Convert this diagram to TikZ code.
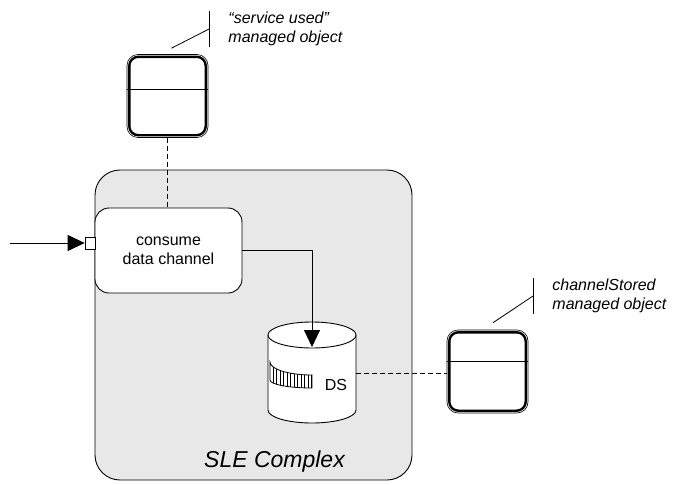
\documentclass[tikz,border=0pt]{standalone}
\usepackage{fontspec}
\setmainfont{Liberation Sans}
\usetikzlibrary{arrows.meta,positioning}
\definecolor{cplxgray}{HTML}{E8E8E8}
\begin{document}
\begin{tikzpicture}[x=1pt,y=-1pt,line width=0.9pt,
  complex/.style={draw,fill=cplxgray,rounded corners=25pt},
  process/.style={draw,fill=white,rounded corners=14pt,minimum width=147pt,minimum height=85pt,align=center,font=\fontsize{16}{19}\selectfont},
  port/.style={draw,fill=white,line width=0.7pt,minimum width=10pt,minimum height=12pt,inner sep=0pt},
  mobj/.style={draw,fill=white,line width=0.6pt,rounded corners=11pt,minimum width=81pt,minimum height=83pt,inner sep=0pt},
  note/.style={align=left,inner sep=0pt,anchor=west,font=\fontsize{16}{19}\selectfont\itshape},
  flow/.style={-{Triangle[length=17pt,width=16pt]}},
  assoc/.style={dash pattern=on 5pt off 3pt,line width=0.8pt}]
\useasboundingbox (0,0) rectangle (673,485);
% SLE complex
\node[complex,minimum width=317pt,minimum height=310pt] (cplx) at (253.5,325) {};
\node[font=\fontsize{23}{26}\selectfont\itshape] (cplxlabel) at (274.5,462) {SLE Complex};
% process
\node[process] (consume) at (168.5,250.5) {consume\\data channel};
\node[port] (port) at (90,243) {};
\coordinate (src) at (10,243);
\draw[flow] (src) -- (port);
% data store
\coordinate (dsTop) at (312,335);
\coordinate (dsBot) at (312,410);
\fill[white] (268,335) rectangle (356,410);
\fill[white] (dsBot) ellipse[x radius=44pt,y radius=13pt];
\draw (268,335) -- (268,410) arc[start angle=180,end angle=360,x radius=44pt,y radius=13pt] -- (356,335);
\draw[fill=white] (dsTop) ellipse[x radius=44pt,y radius=13pt];
\begin{scope}
  \clip (270,362) arc[start angle=180,end angle=270,x radius=42pt,y radius=13pt] -- (312,388) arc[start angle=270,end angle=180,x radius=42pt,y radius=8pt] -- cycle;
  \foreach \x in {273,276.5,...,312} \draw[line width=0.7pt] (\x,355) -- (\x,395);
\end{scope}
\draw[line width=0.8pt] (270,362) arc[start angle=180,end angle=270,x radius=42pt,y radius=13pt] -- (312,388) arc[start angle=270,end angle=180,x radius=42pt,y radius=8pt] -- cycle;
\node[font=\fontsize{16}{19}\selectfont] (dslabel) at (336,385) {DS};
\coordinate (dsIn) at (312,347);
\coordinate (dsOut) at (356,373);
\draw[flow] (consume.east) -| (dsIn);
% managed objects
\node[mobj] (svcMO) at (167.5,96) {};
\node[mobj] (chMO) at (487.5,371.5) {};
\foreach \m/\d in {svcMO/35,chMO/32} {
  \draw[line width=2.4pt,rounded corners=9pt] ([shift={(2.6pt,-2.6pt)}]\m.north west) rectangle ([shift={(-2.6pt,2.6pt)}]\m.south east);
  \draw ([yshift=-\d pt]\m.north west) -- ([yshift=-\d pt]\m.north east);
}
\draw[assoc] (svcMO.south) -- (svcMO.south |- consume.north);
\draw[assoc] (dsOut) -- (chMO.west |- dsOut);
% annotations
\node[note] (svcNote) at (228,29) {“service used”\\managed object};
\node[note] (chNote) at (552,296) {channelStored\\managed object};
\coordinate (svcBr) at ([xshift=-19pt]svcNote.west);
\coordinate (chBr) at ([xshift=-19pt]chNote.west);
\draw[line width=0.8pt] ([yshift=18pt]svcBr) -- ([yshift=-18pt]svcBr);
\draw[line width=0.8pt] ([yshift=18pt]chBr) -- ([yshift=-18pt]chBr);
\draw[line width=0.8pt] (svcBr) -- ([shift={(4pt,6pt)}]svcMO.north);
\draw[line width=0.8pt] (chBr) -- ([shift={(5.5pt,7pt)}]chMO.north);
\end{tikzpicture}
\end{document}
